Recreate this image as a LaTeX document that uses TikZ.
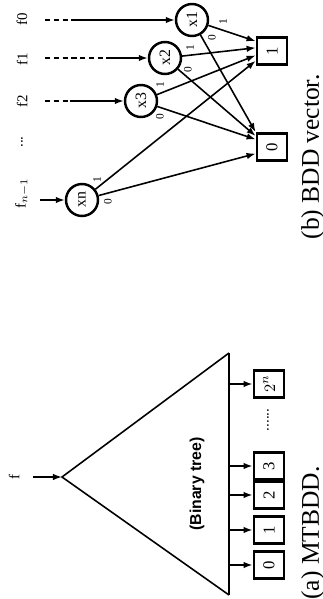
\documentclass[tikz,border=0pt]{standalone}
\usepackage{fontspec}
\setmainfont{Liberation Serif}
\setsansfont{Liberation Sans}
\usetikzlibrary{arrows.meta, positioning}
\def\boxW{0.54cm}
\def\boxH{0.60cm}
\def\varD{0.64cm}
\def\baseV{93}

\begin{document}
\begin{tikzpicture}[
    x=0.02cm, y=0.02cm,
    font=\fontsize{8.5}{9}\selectfont,
    var/.style={circle, draw, line width=1.4pt, minimum size=\varD,
                inner sep=0pt, font=\fontsize{9}{9}\selectfont},
    term/.style={rectangle, draw, line width=1.6pt, minimum width=\boxW,
                 minimum height=\boxH, inner sep=0pt,
                 font=\fontsize{9.5}{9}\selectfont},
    wire/.style={line width=0.9pt},
    arc/.style={-{Latex[length=1.8mm,width=1.3mm]}, line width=0.9pt},
    lbl/.style={font=\fontsize{6.5}{6}\selectfont, inner sep=0pt},
    caption/.style={font=\fontsize{14.5}{16}\selectfont, anchor=base,
                    inner sep=0pt},
    ]
\begin{scope}[rotate=90, transform shape]
\useasboundingbox (0,0) rectangle (599,322);

% ====================================================================
% Panel (a) -- MTBDD
% ====================================================================
\coordinate (apex)  at (122,260);
\coordinate (baseL) at (4,\baseV);
\coordinate (baseR) at (246,\baseV);
\draw[line width=0.9pt] (baseL) -- (apex) -- (baseR);
\draw[line width=1.4pt] (baseL) -- (baseR);

% input f
\node (fa) at (122,308) {f};
\coordinate (fin) at (122,289);
\draw[arc] (fin) -- (apex);

\node[font=\sffamily\bfseries\fontsize{9}{9}\selectfont] (tree) at (115,125)
  {(Binary tree)};

% terminal values
\foreach \u/\t/\nm in {34/0/ta, 69/1/tb, 104/2/tc, 133/3/td, 215/$2^n$/te}{
    \node[term] (\nm) at (\u,53) {\t};
    \draw[arc] (baseL -| \nm) -- (\nm);
}
\node (tdots) at (179,54) {......};

\node[caption] (capA) at (66,3) {(a) MTBDD.};

% ====================================================================
% Panel (b) -- BDD vector
% ====================================================================
\node[var] (x1) at (579,130) {x1};
\node[var] (x2) at (541,157) {x2};
\node[var] (x3) at (498,181) {x3};
\node[var] (xn) at (399,240) {xn};

\node[term] (one)  at (548,50) {1};
\node[term] (zero) at (452,50) {0};

% outputs f0 ... f_{n-1}
\node (f0) at (580,300) {f0};
\node (f1) at (540,300) {f1};
\node (f2) at (498,300) {f2};
\node (fd) at (457,300) {...};
\node (fn) at (406,300) {f$_{n-1}$};

\coordinate (i0) at (579,277);  \coordinate (m0) at (579,247);
\coordinate (i1) at (541,277);  \coordinate (m1) at (541,212);
\coordinate (i2) at (498,277);  \coordinate (m2) at (498,252);
\coordinate (in) at (399,282);
\draw[wire, densely dashed] (i0) -- (m0);
\draw[arc] (m0) -- (x1);
\draw[wire, densely dashed] (i1) -- (m1);
\draw[arc] (m1) -- (x2);
\draw[wire, densely dashed] (i2) -- (m2);
\draw[arc] (m2) -- (x3);
\draw[arc] (in) -- (xn);

% 1-edges
\draw[arc] (x1) -- (one.59);
\draw[arc] (x2) -- (one.79);
\draw[arc] (x3) -- (one.105);
\draw[arc] (xn) -- (one.121);
% 0-edges
\draw[arc] (x1) -- (zero.north east);
\draw[arc] (x2) -- (zero.56);
\draw[arc] (x3) -- (zero.65);
\draw[arc] (xn) -- (zero.112);

% edge labels
\node[lbl] (x1h) at (577,99)  {1};
\node[lbl] (x1l) at (561,110) {0};
\node[lbl] (x2h) at (551,132) {1};
\node[lbl] (x2l) at (529,134) {0};
\node[lbl] (x3h) at (514,162) {1};
\node[lbl] (x3l) at (482,162) {0};
\node[lbl] (xnh) at (419,225) {1};
\node[lbl] (xnl) at (397,214) {0};

\node[caption] (capB) at (442,3) {(b) BDD vector.};

\end{scope}
\end{tikzpicture}
\end{document}
